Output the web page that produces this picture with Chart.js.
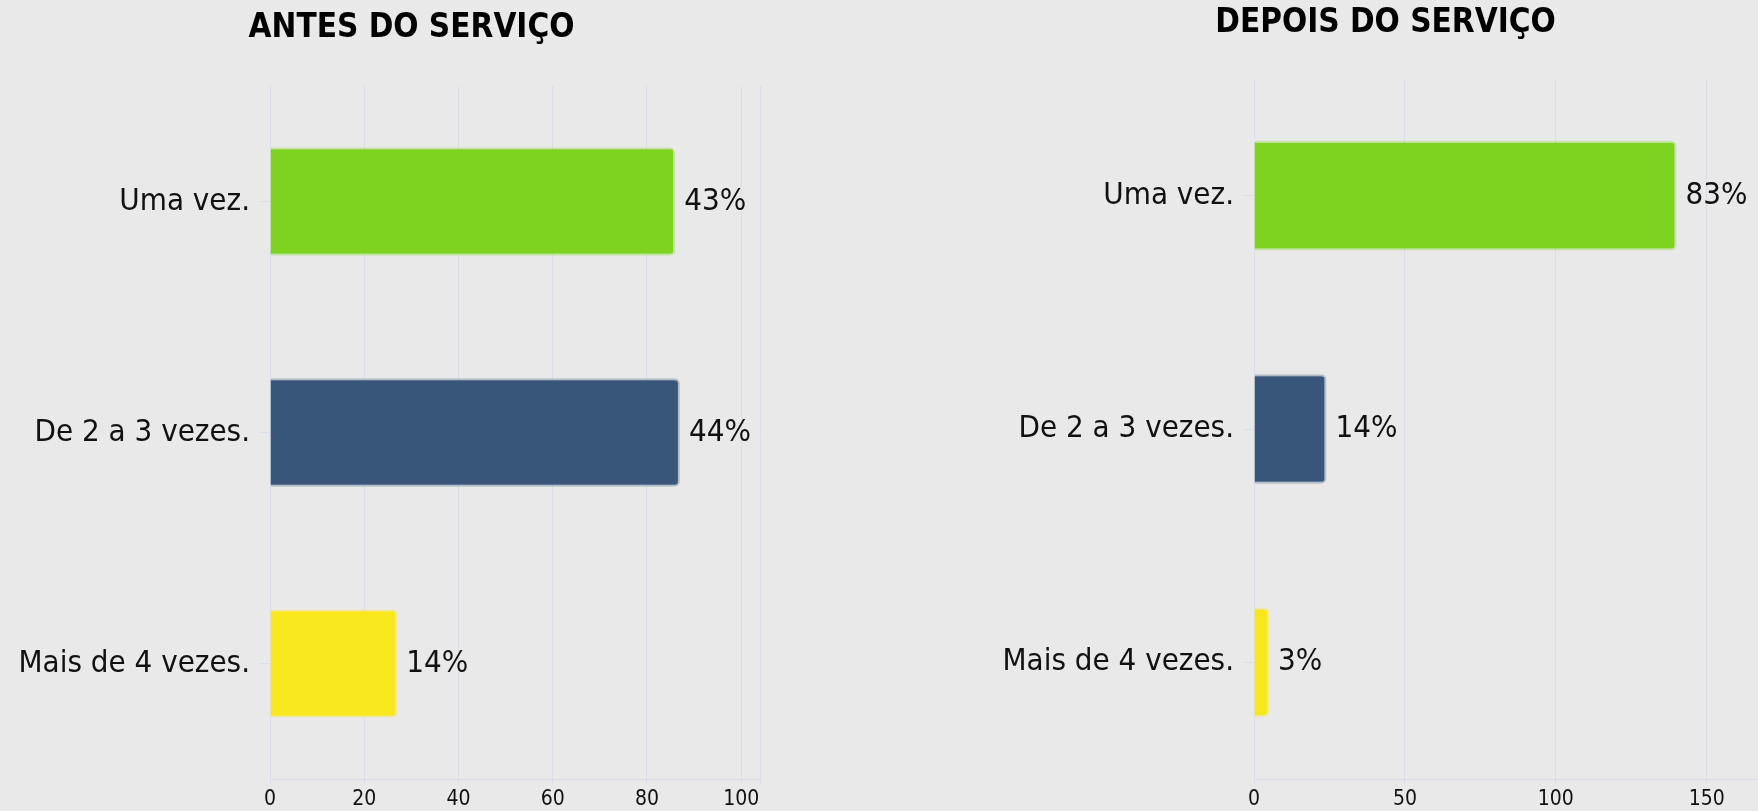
<!DOCTYPE html>
<html>
<head>
<meta charset="utf-8">
<script src="https://cdn.jsdelivr.net/npm/chart.js@4.4.1/dist/chart.umd.min.js"></script>
<style>
  html, body { margin: 0; padding: 0; background: #e9e9e9; width: 1758px; height: 811px; overflow: hidden; position: relative; }
  canvas { position: absolute; top: 0; }
  #antes { left: 0; }
  #depois { left: 990px; }
</style>
</head>
<body>
<canvas id="antes" width="823" height="811"></canvas>
<canvas id="depois" width="791" height="811"></canvas>
<script>
// data
const categories = ['Uma vez.', 'De 2 a 3 vezes.', 'Mais de 4 vezes.'];
const antesValues = [86, 87, 27];
const antesLabels = ['43%', '44%', '14%'];
const depoisValues = [140, 24, 5];
const depoisLabels = ['83%', '14%', '3%'];
const antesTicks = [0, 20, 40, 60, 80, 100];
const depoisTicks = [0, 50, 100, 150];

const FONT = "'DejaVu Sans Condensed', 'DejaVu Sans', sans-serif";
const barColors = ['#7ed321', '#37567a', '#f8e71c'];
const barBorders = ['rgba(126,211,33,0.3)', 'rgba(55,86,122,0.3)', 'rgba(248,231,28,0.3)'];
const gridColor = '#dcdde8';

// percent text at the end of each bar
const valueLabels = {
  id: 'valueLabels',
  afterDatasetsDraw(chart, args, opts) {
    const ctx = chart.ctx;
    ctx.save();
    ctx.font = '31px ' + FONT;
    ctx.fillStyle = '#111';
    ctx.textBaseline = 'middle';
    ctx.textAlign = 'left';
    chart.getDatasetMeta(0).data.forEach((bar, i) => {
      ctx.fillText(opts.labels[i], bar.x + 9, bar.y);
    });
    ctx.restore();
  }
};

function makeChart(id, title, values, labels, ticks, cfg) {
  const ctx = document.getElementById(id).getContext('2d');
  return new Chart(ctx, {
    type: 'bar',
    data: {
      labels: categories,
      datasets: [{
        data: values,
        backgroundColor: barColors,
        borderColor: barBorders,
        borderWidth: 2,
        borderRadius: 5,
        borderSkipped: 'start',
        categoryPercentage: 1,
        barPercentage: 0.47
      }]
    },
    plugins: [valueLabels],
    options: {
      indexAxis: 'y',
      responsive: false,
      devicePixelRatio: 1,
      animation: false,
      layout: { padding: 0 },
      plugins: {
        legend: { display: false },
        tooltip: { enabled: false },
        title: {
          display: true,
          text: title,
          color: '#000',
          font: { family: FONT, size: 33, weight: 'bold', lineHeight: 1.2 },
          padding: { top: cfg.titleTop, bottom: cfg.titleBottom }
        },
        valueLabels: { labels: labels }
      },
      scales: {
        x: {
          min: 0,
          max: cfg.max,
          afterBuildTicks(scale) {
            const vals = cfg.gridAtMax ? ticks.concat([cfg.max]) : ticks;
            scale.ticks = vals.map(v => ({ value: v }));
          },
          afterFit(scale) { scale.height = 32; },
          grid: { color: gridColor, tickLength: 5 },
          border: { color: gridColor },
          ticks: {
            color: '#111',
            padding: 3,
            font: { family: FONT, size: 21 },
            callback: v => ticks.includes(v) ? v : ''
          }
        },
        y: {
          afterFit(scale) { scale.width = cfg.yWidth; },
          grid: { drawOnChartArea: false, offset: false, color: gridColor, tickLength: 10 },
          border: { display: false },
          ticks: {
            color: '#111',
            padding: 10,
            font: { family: FONT, size: 31 }
          }
        },
        // empty space on the right, keeps the title centred like the original
        gap: {
          type: 'linear',
          position: 'right',
          afterFit(scale) { scale.width = cfg.rightGap; },
          grid: { display: false },
          border: { display: false },
          ticks: { display: false }
        }
      }
    }
  });
}

makeChart('antes', 'ANTES DO SERVIÇO', antesValues, antesLabels, antesTicks, {
  max: 104, gridAtMax: true, yWidth: 270, rightGap: 63, titleTop: 9, titleBottom: 37.4
});
makeChart('depois', 'DEPOIS DO SERVIÇO', depoisValues, depoisLabels, depoisTicks, {
  max: 167, gridAtMax: false, yWidth: 264, rightGap: 23, titleTop: 4, titleBottom: 35.4
});
</script>
</body>
</html>
